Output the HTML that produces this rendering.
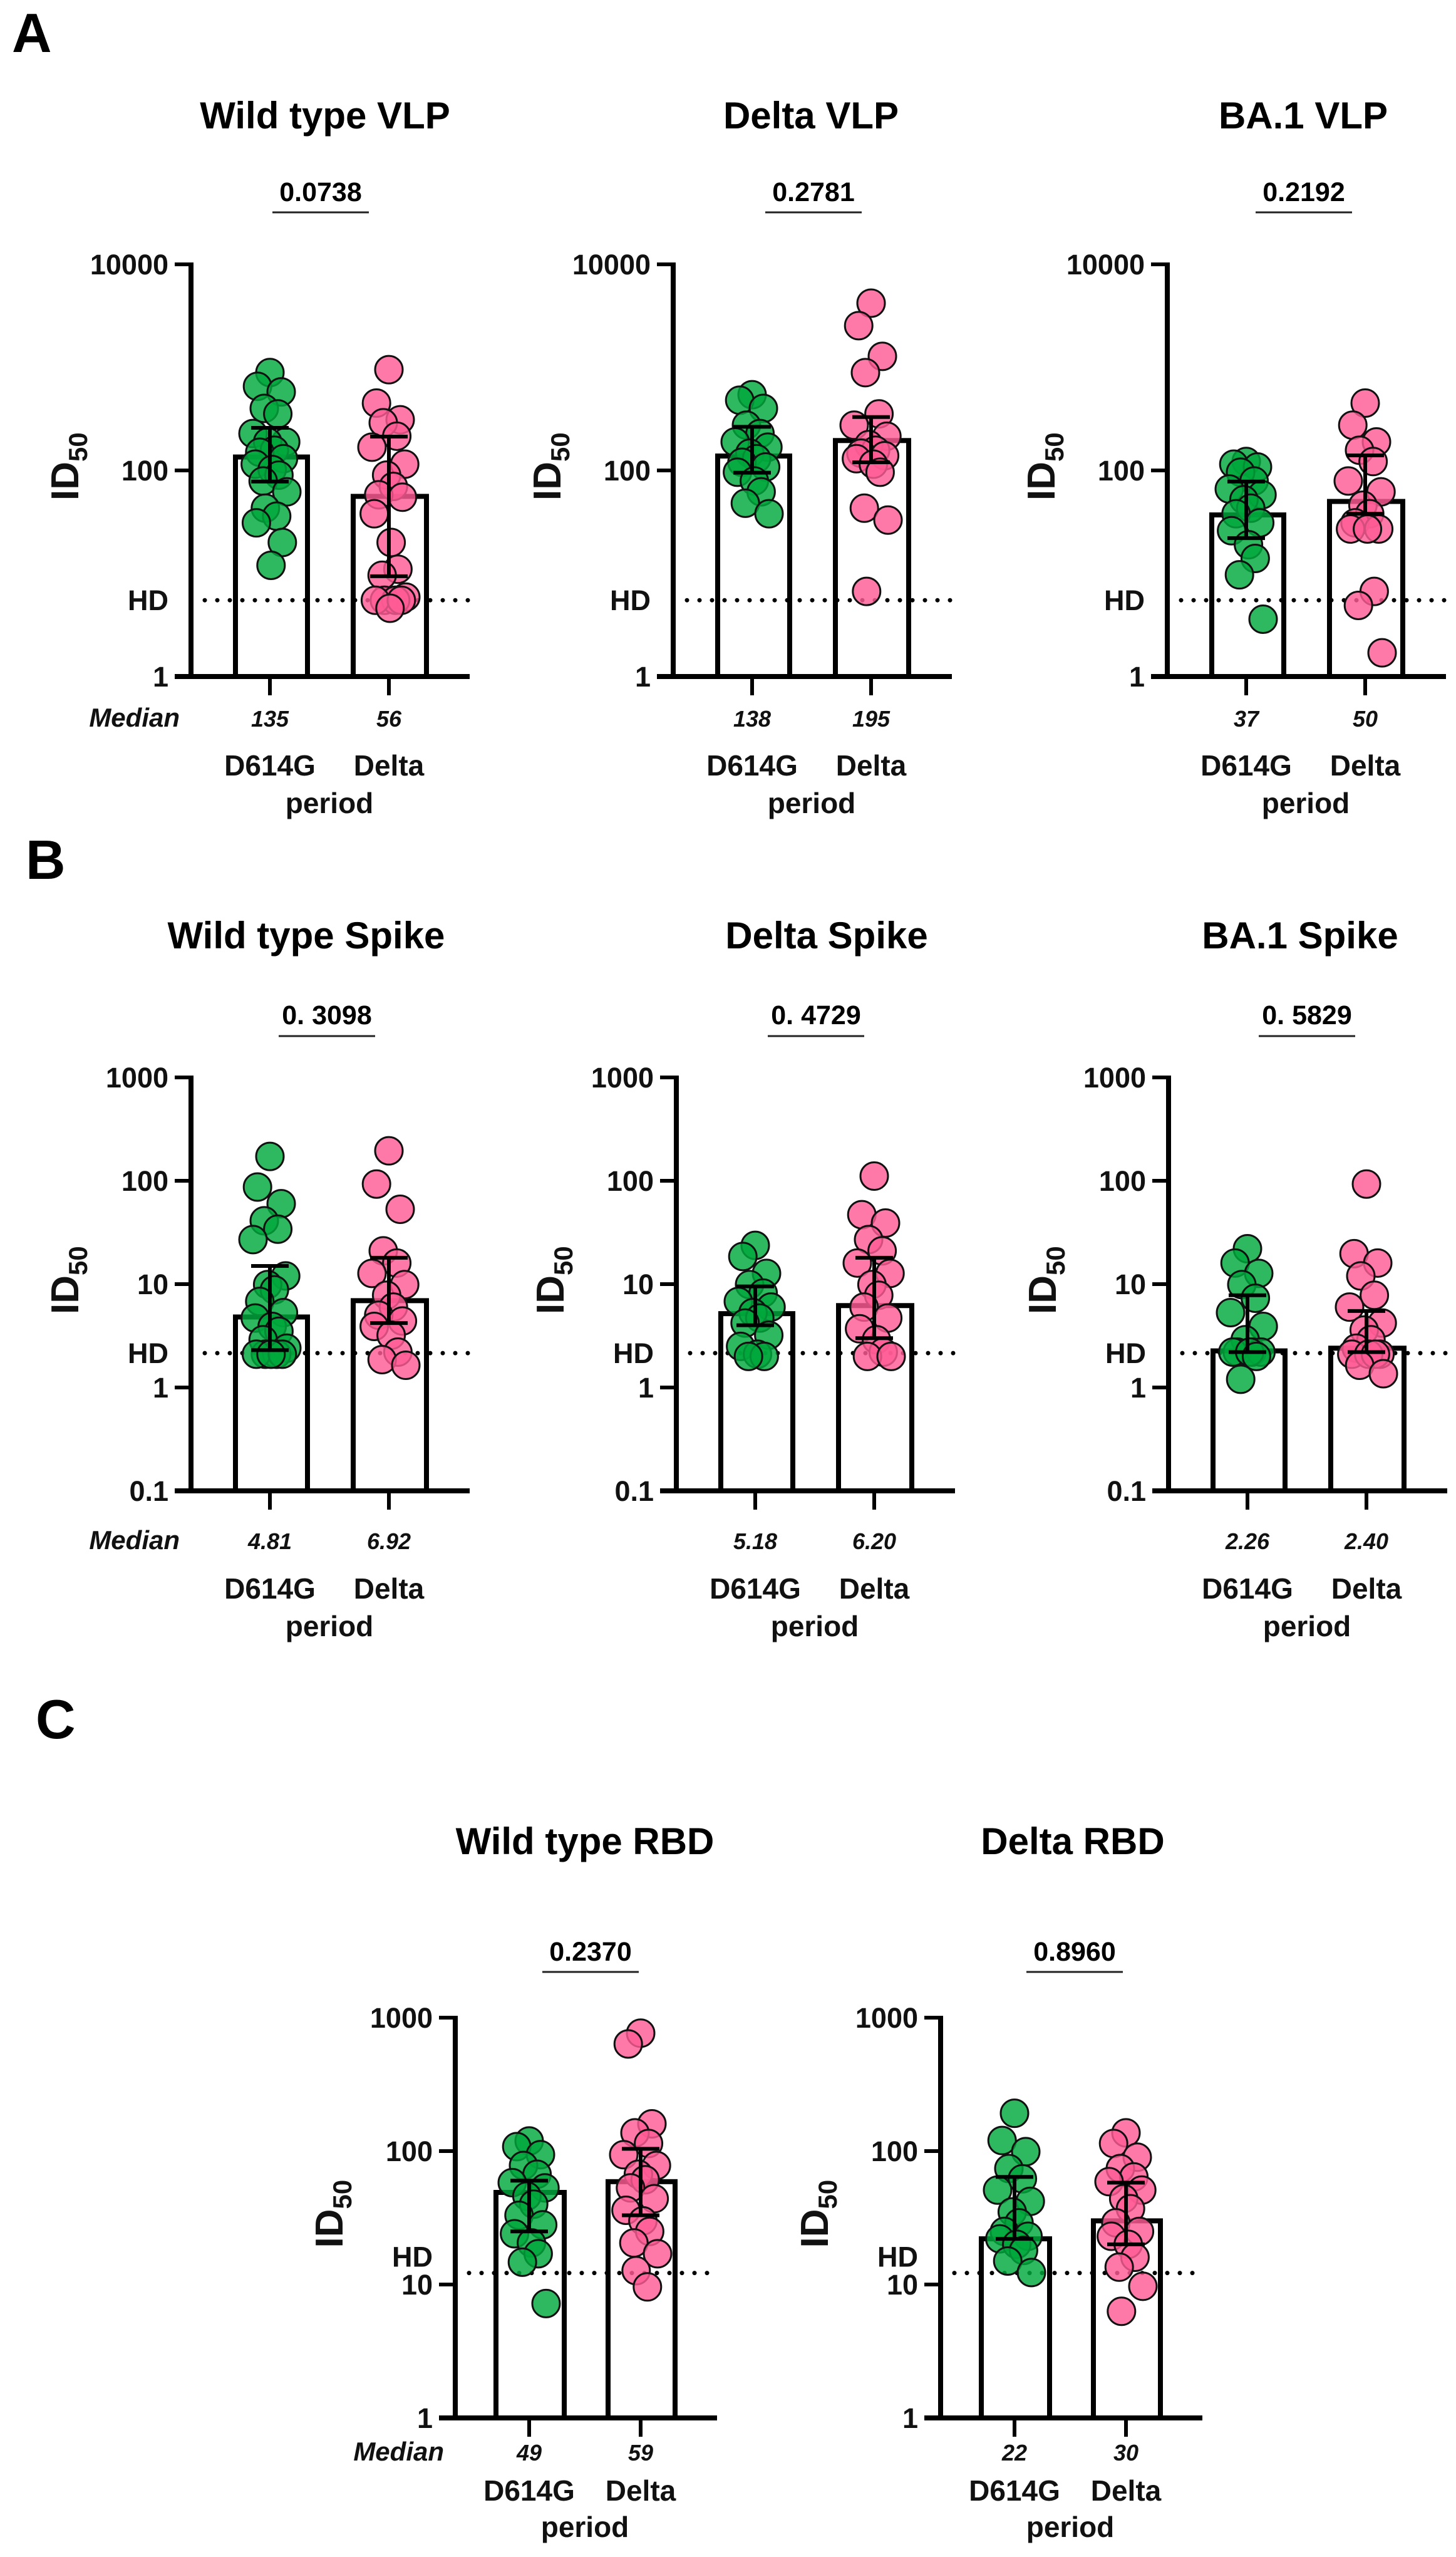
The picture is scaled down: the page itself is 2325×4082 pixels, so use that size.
<!DOCTYPE html>
<html><head><meta charset="utf-8">
<style>
html,body{margin:0;padding:0;background:#fff;}
svg{display:block;font-family:"Liberation Sans",Arial,sans-serif;}
</style></head>
<body>
<svg id="fig" width="2325" height="4082" viewBox="0 0 2325 4082" xmlns="http://www.w3.org/2000/svg">
<rect width="2325" height="4082" fill="#fff"/>
<text x="19" y="83" font-size="88" font-weight="bold">A</text>
<text x="41" y="1403" font-size="88" font-weight="bold">B</text>
<text x="57" y="2775" font-size="88" font-weight="bold">C</text>
</svg>
<script>
// ---- data (ID50 values) ----
const groups = ["D614G", "Delta"];
const a1Green = [891,655,578,400,354,228,189,189,157,150,130,115,102,90,79,62,43,36,31,20,12];
const a1Pink = [950,450,310,290,215,168,115,90,70,58,55,38,20,11,9.6,5.9,5.5,5.5,5.5,5.5,4.6];
const a1Median = [135,56];
const a1Q1 = [78,9.4];
const a1Q3 = [259,213];
const a2Green = [543,480,400,275,228,189,168,147,130,120,108,96,79,62,48,38];
const a2Pink = [4200,2540,1280,890,354,275,215,178,157,147,139,130,115,96,43,33,6.7];
const a2Median = [138,195];
const a2Q1 = [95,120];
const a2Q3 = [265,330];
const a3Green = [122,115,108,96,79,66,58,52,43,38,31,26,19,14,9.7,3.6];
const a3Pink = [450,275,189,157,122,79,62,46,38,31,27,27,27,6.7,4.9,1.7];
const a3Median = [37,50];
const a3Q1 = [22,38];
const a3Q3 = [78,140];
const b1Green = [172,87,60,41,34,27,12,9.9,8.8,6.8,5.3,4.7,3.9,3.5,2.9,2.4,2.1,2.1,2.1,2.1,2.1];
const b1Pink = [195,93,53,21,16,12.7,9.9,7.8,6.0,5.0,4.4,3.9,3.2,2.2,1.86,1.64];
const b1Median = [4.81,6.92];
const b1Q1 = [2.3,4.2];
const b1Q3 = [15,18];
const b2Green = [23.7,18.5,12.7,9.9,8.2,6.8,6.0,5.3,4.7,4.2,3.2,2.5,2.1,2.0,2.0];
const b2Pink = [111,47,39,27,21,16,12.7,9.9,7.8,6.0,4.7,3.7,2.9,2.2,2.0,2.0];
const b2Median = [5.18,6.20];
const b2Q1 = [4,3];
const b2Q3 = [9.5,18];
const b3Green = [22,16,12.7,9.9,7.3,5.3,3.9,2.9,2.2,2.2,2.2,2.2,2.2,2.0,1.2];
const b3Pink = [93,19.7,16,12,7.8,6,4.2,3.6,2.9,2.4,2.1,2.1,2.1,2.1,1.64,1.36];
const b3Median = [2.26,2.40];
const b3Q1 = [2.2,2.2];
const b3Q3 = [7.8,5.5];
const c1Green = [119,108,94,78,67,58,53,46,40,33,28,24,20.5,17,14.7,7.2];
const c1Pink = [765,635,160,137,114,94,78,67,61,53,44,36,30,25,20.5,17,12.7,9.6];
const c1Median = [49,59];
const c1Q1 = [25,33];
const c1Q3 = [60,104];
const c2Green = [192,120,99,74,62,51,42,35,29,25,23,22,20,18,15,12.3];
const c2Pink = [137,114,90,74,64,59,51,44,37,29,25,23,20,16,13.5,9.7,6.3];
const c2Median = [22,30];
const c2Q1 = [22,20];
const c2Q3 = [64,58];
const titles = ["Wild type VLP","Delta VLP","BA.1 VLP","Wild type Spike","Delta Spike","BA.1 Spike","Wild type RBD","Delta RBD"];
const pValues = ["0.0738","0.2781","0.2192","0. 3098","0. 4729","0. 5829","0.2370","0.8960"];
const hdValues = [5.5,5.5,5.5,2.15,2.15,2.15,12.2,12.2];
const tickExpA = [0,2,4];
const tickExpB = [-1,0,1,2,3];
const tickExpC = [0,1,2,3];
const tickLabelsA = ["1","100","10000"];
const tickLabelsB = ["0.1","1","10","100","1000"];
const tickLabelsC = ["1","10","100","1000"];

const NS = "http://www.w3.org/2000/svg";
const svg = document.getElementById("fig");
function mk(tag, attrs, parent, text){
  const e = document.createElementNS(NS, tag);
  for (const k in attrs) e.setAttribute(k, attrs[k]);
  if (text !== undefined) e.textContent = text;
  (parent || svg).appendChild(e);
  return e;
}
const rowA = {y1:1080, dec:164.5, minE:0, maxE:4, ticks:tickExpA, labels:tickLabelsA, titleY:205, pY:321, lineY:339, medY:1160, grpY:1238, perY:1298, b1:[67,190], b2:[255,380], t:[126,316], xEnd:445, hdAbove:false};
const rowB = {y1:2215, dec:165, minE:-1, maxE:3, ticks:tickExpB, labels:tickLabelsB, titleY:1514, pY:1635, lineY:1654, medY:2473, grpY:2552, perY:2612, b1:[67,190], b2:[255,380], t:[126,316], xEnd:445, hdAbove:false};
const rowC = {y1:3860, dec:213, minE:0, maxE:3, ticks:tickExpC, labels:tickLabelsC, titleY:2960, pY:3130, lineY:3148, medY:3928, grpY:3992, perY:4050, b1:[61,178], b2:[240,355], t:[118,296], xEnd:418, hdAbove:true};

const charts = [
 {row:rowA, ax:305, tx:519, px:512, g:a1Green, p:a1Pink, med:a1Median, q1:a1Q1, q3:a1Q3, showMedian:true},
 {row:rowA, ax:1075, tx:1295, px:1299, g:a2Green, p:a2Pink, med:a2Median, q1:a2Q1, q3:a2Q3},
 {row:rowA, ax:1864, tx:2081, px:2082, g:a3Green, p:a3Pink, med:a3Median, q1:a3Q1, q3:a3Q3},
 {row:rowB, ax:305, tx:489, px:522, g:b1Green, p:b1Pink, med:b1Median, q1:b1Q1, q3:b1Q3, showMedian:true},
 {row:rowB, ax:1080, tx:1320, px:1303, g:b2Green, p:b2Pink, med:b2Median, q1:b2Q1, q3:b2Q3},
 {row:rowB, ax:1866, tx:2076, px:2087, g:b3Green, p:b3Pink, med:b3Median, q1:b3Q1, q3:b3Q3},
 {row:rowC, ax:727, tx:934, px:943, g:c1Green, p:c1Pink, med:c1Median, q1:c1Q1, q3:c1Q3, showMedian:true},
 {row:rowC, ax:1502, tx:1713, px:1716, g:c2Green, p:c2Pink, med:c2Median, q1:c2Q1, q3:c2Q3}
];
const jit = [0,-22,20,-10,14,-30,28,-4,8,-18,24,-26,4,16,-12,30,-8,12,-24,22,2,-16,18];

charts.forEach((c, ci) => {
  const R = c.row;
  const y = v => R.y1 - Math.log10(v) * R.dec;
  const yBase = y(Math.pow(10, R.minE));
  const yTop = y(Math.pow(10, R.maxE));
  const G = mk("g", {});
  
  

  const title = mk("text", {x:c.tx, y:R.titleY, "font-size":60, "font-weight":"bold", "text-anchor":"middle"}, G, titles[ci]);
  
  
  const pv = mk("text", {x:c.px, y:R.pY, "font-size":43, "font-weight":"bold", "text-anchor":"middle"}, G, pValues[ci]);
  
  
  const pl = mk("line", {x1:c.px-77, x2:c.px+77, y1:R.lineY, y2:R.lineY, stroke:"#222", "stroke-width":3}, G);
  
  

  // bars
  [R.b1, R.b2].forEach((b, i) => {
    const top = y(c.med[i]);
    const r = mk("rect", {x:c.ax+b[0]+4, y:top, width:b[1]-b[0]-8, height:yBase-top, fill:"#fff", stroke:"#000", "stroke-width":8}, G);
    
    
  });

  // HD dotted line
  const hy = y(hdValues[ci]);
  const hd = mk("line", {x1:c.ax+22, x2:c.ax+R.xEnd, y1:hy, y2:hy, stroke:"#000", "stroke-width":7, "stroke-linecap":"round", "stroke-dasharray":"0 20"}, G);
  
  

  // points
  [[c.g,"#00a83c","#000"],[c.p,"#ff5b95","#000"]].forEach((s, si) => {
    const cx0 = c.ax + R.t[si];
    s[0].forEach((v, k) => {
      const pt = mk("circle", {cx:cx0 + jit[k % jit.length]*0.9, cy:y(v), r:22, fill:s[1], "fill-opacity":0.82, stroke:"#111", "stroke-width":3}, G);
      
      
    });
  });

  // error bars
  [0,1].forEach(i => {
    const cx = c.ax + R.t[i];
    const e = mk("path", {d:`M${cx},${y(c.q1[i])}V${y(c.q3[i])}M${cx-30},${y(c.q1[i])}H${cx+30}M${cx-30},${y(c.q3[i])}H${cx+30}`, stroke:"#000", "stroke-width":6, fill:"none"}, G);
    
    
  });

  // axes
  const ya = mk("line", {x1:c.ax, x2:c.ax, y1:yTop-3, y2:yBase+4, stroke:"#000", "stroke-width":8}, G);
  
  
  const xa = mk("line", {x1:c.ax-26, x2:c.ax+R.xEnd, y1:yBase, y2:yBase, stroke:"#000", "stroke-width":8}, G);
  
  
  R.ticks.forEach((e, i) => {
    const ty = y(Math.pow(10, e));
    const tk = mk("line", {x1:c.ax-26, x2:c.ax, y1:ty, y2:ty, stroke:"#000", "stroke-width":6}, G);
    
    
    const tl = mk("text", {x:c.ax-36, y:ty+16, "font-size":45, "font-weight":"bold", "text-anchor":"end", fill:"#111"}, G, R.labels[i]);
    
    
  });
  const hl = mk("text", {x:c.ax-36, y:(R.hdAbove ? hy-10 : hy+16), "font-size":45, "font-weight":"bold", "text-anchor":"end", fill:"#111"}, G, "HD");
  
  

  // y title
  const yt = mk("text", {transform:`translate(${c.ax-180},${(yTop+yBase)/2+48}) rotate(-90)`, "font-size":62, "font-weight":"bold", fill:"#111"}, G);
  
  
  mk("tspan", {}, yt, "ID");
  mk("tspan", {dy:14, "font-size":42}, yt, "50");

  // x ticks and labels
  [0,1].forEach(i => {
    const cx = c.ax + R.t[i];
    const xt = mk("line", {x1:cx, x2:cx, y1:yBase, y2:yBase+30, stroke:"#000", "stroke-width":6}, G);
    
    
    const mv = mk("text", {x:cx, y:R.medY, "font-size":36, "font-weight":"bold", "font-style":"italic", "text-anchor":"middle", fill:"#111"}, G, String(c.med[i].toFixed(R===rowB?2:0)));
    
    
    const gl = mk("text", {x:cx, y:R.grpY, "font-size":46, "font-weight":"bold", "text-anchor":"middle", fill:"#111"}, G, groups[i]);
    
    
  });
  const per = mk("text", {x:c.ax+(R.t[0]+R.t[1])/2, y:R.perY, "font-size":46, "font-weight":"bold", "text-anchor":"middle", fill:"#111"}, G, "period");
  
  
  if (c.showMedian) {
    const ml = mk("text", {x:c.ax-18, y:R.medY, "font-size":42, "font-weight":"bold", "font-style":"italic", "text-anchor":"end", fill:"#111"}, G, "Median");
    
    
  }
});
</script>
</body></html>
